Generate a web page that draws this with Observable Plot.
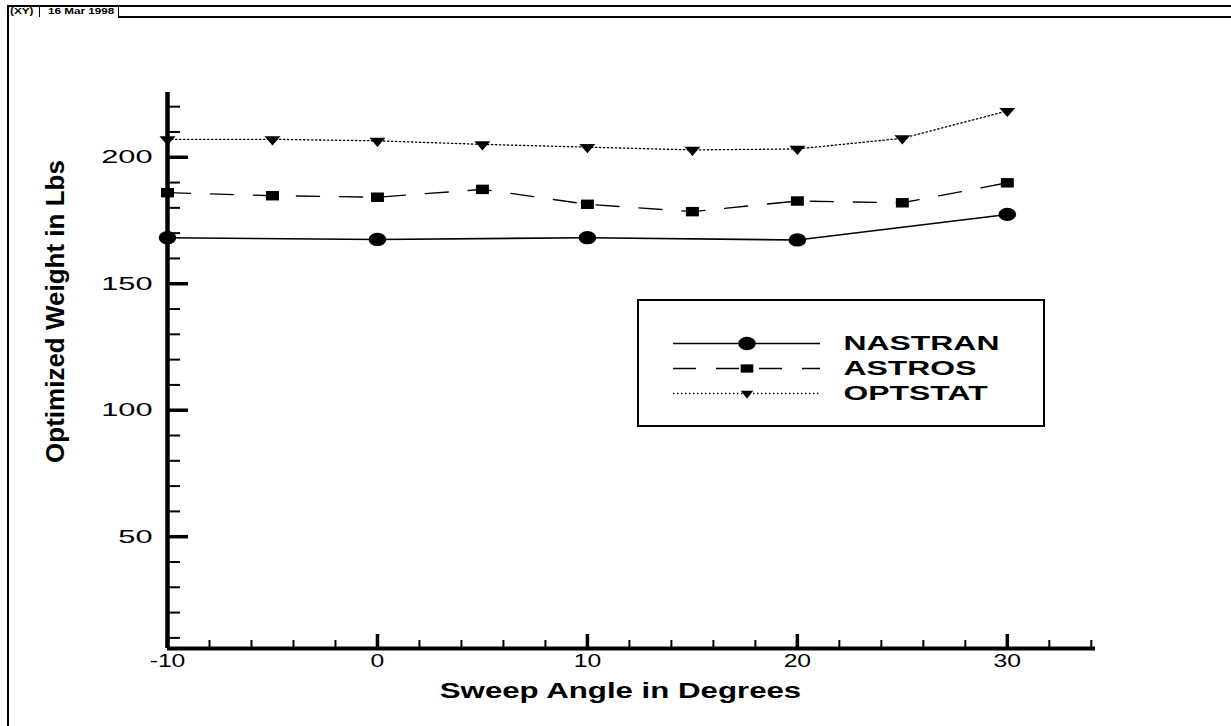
<!DOCTYPE html>
<html>
<head>
<meta charset="utf-8">
<script src="https://cdn.jsdelivr.net/npm/d3@7"></script>
<script src="https://cdn.jsdelivr.net/npm/@observablehq/plot@0.6"></script>
<style>
  html, body { margin: 0; padding: 0; background: #fff; }
  #wrap { position: relative; width: 1231px; height: 726px; overflow: hidden; background: #fff;
          font-family: "Liberation Sans", Arial, Helvetica, sans-serif; color: #000; }
  #wrap > svg.main { position: absolute; left: 0; top: 0; }
  #legendBox { position: absolute; left: 637px; top: 299px; width: 404px; height: 124px;
               border: 2px solid #000; background: #fff; }
  #legendBox svg { display: block; }
  .hline { position: absolute; height: 0; border-top: 2px solid #000; }
  .vline { position: absolute; width: 0; border-left: 2px solid #000; }
  .htext { position: absolute; top: 6px; font-size: 9px; font-weight: bold; line-height: 11px;
           transform-origin: 0 0; transform: scaleX(1.3); white-space: nowrap; }
</style>
</head>
<body>
<div id="wrap"></div>
<script>
// ---------- data ----------
const sweepAngles   = [-10, -5, 0, 5, 10, 15, 20, 25, 30];
const nastranAngles = [-10, 0, 10, 20, 30];
const nastranWeight = [168.2, 167.5, 168.2, 167.3, 177.4];
const astrosWeight  = [186.0, 184.8, 184.2, 187.3, 181.4, 178.5, 182.7, 182.0, 189.9];
const optstatWeight = [207.1, 207.1, 206.5, 205.1, 204.0, 202.9, 203.3, 207.5, 218.3];
const seriesNames   = ["NASTRAN", "ASTROS", "OPTSTAT"];

const xDomain = [-10, 34.2];
const yDomain = [5.8, 225.6];
const xMajor = [-10, 0, 10, 20, 30];
const xMinor = [-8, -6, -4, -2, 2, 4, 6, 8, 12, 14, 16, 18, 22, 24, 26, 28, 32, 34];
const yMajor = [50, 100, 150, 200];
const yMinor = [10, 20, 30, 40, 60, 70, 80, 90, 110, 120, 130, 140, 160, 170, 180, 190, 210, 220];

const xTitle = "Sweep Angle in Degrees";
const yTitle = "Optimized Weight in Lbs";
const headerTag = "(XY)";
const headerDate = "16 Mar 1998";

// ---------- tables ----------
const nastran = nastranAngles.map((a, i) => ({angle: a, weight: nastranWeight[i]}));
const astros  = sweepAngles.map((a, i) => ({angle: a, weight: astrosWeight[i]}));
const optstat = sweepAngles.map((a, i) => ({angle: a, weight: optstatWeight[i]}));

// ---------- layout ----------
const FONT = '"Liberation Sans", Arial, Helvetica, sans-serif';
const W = 1231, H = 726;
const M = {left: 167, right: 136, top: 92, bottom: 78};
const fw = W - M.left - M.right, fh = H - M.top - M.bottom;

const DASH = "23,20";
const DOT = "1.4,2.6";

const chart = Plot.plot({
  width: W, height: H,
  marginLeft: M.left, marginRight: M.right, marginTop: M.top, marginBottom: M.bottom,
  x: {domain: xDomain, axis: null, label: null},
  y: {domain: yDomain, axis: null, label: null},
  style: {background: "transparent", fontFamily: FONT, color: "#000", overflow: "visible"},
  marks: [
    Plot.line(nastran, {x: "angle", y: "weight", strokeWidth: 1.6}),
    Plot.line(astros,  {x: "angle", y: "weight", strokeWidth: 1.4, strokeDasharray: DASH}),
    Plot.line(optstat, {x: "angle", y: "weight", strokeWidth: 1.3, strokeDasharray: DOT}),
    Plot.ruleX([xDomain[0]], {strokeWidth: 4.5}),
    Plot.ruleY([yDomain[0]], {strokeWidth: 4}),
    Plot.tickY(yMinor, {y: d => d, insetRight: fw - 13, strokeWidth: 2}),
    Plot.tickY(yMajor, {y: d => d, insetRight: fw - 21, strokeWidth: 3.5}),
    Plot.tickX(xMinor, {x: d => d, insetTop: fh - 8, strokeWidth: 2}),
    Plot.tickX(xMajor, {x: d => d, insetTop: fh - 14, strokeWidth: 3.5}),
    Plot.dot(nastran, {x: "angle", y: "weight", symbol: "circle", r: 7.8, fill: "#000"}),
    Plot.dot(astros,  {x: "angle", y: "weight", symbol: "square", r: 6.2, fill: "#000"}),
    Plot.dot(optstat, {x: "angle", y: "weight", symbol: "triangle", rotate: 180, r: 5.5, fill: "#000"}),
    Plot.axisY({ticks: yMajor, tickSize: 0, tickPadding: 15, fontSize: 19, label: null, tickFormat: d => String(d)}),
    Plot.axisX({ticks: xMajor, tickSize: 0, tickPadding: 5, fontSize: 19, label: null, tickFormat: d => String(d)}),
    Plot.text([xTitle], {frameAnchor: "bottom", dx: -11, dy: 34, lineAnchor: "top", textAnchor: "middle",
                         fontSize: 22, fontWeight: "bold"}),
    Plot.text([yTitle], {frameAnchor: "left", dx: -112, dy: -59, rotate: -90, lineAnchor: "middle", textAnchor: "middle",
                         fontSize: 26, fontWeight: "bold"})
  ]
});
chart.classList.add("main");

// ---------- legend ----------
const legend = Plot.plot({
  width: 404, height: 124,
  marginLeft: 34, marginRight: 223, marginTop: 42, marginBottom: 32,
  x: {domain: [0, 1], axis: null},
  y: {type: "point", domain: seriesNames, padding: 0, axis: null},
  style: {background: "transparent", fontFamily: FONT, color: "#000", overflow: "visible"},
  marks: [
    Plot.ruleY([seriesNames[0]], {strokeWidth: 1.6}),
    Plot.ruleY([seriesNames[1]], {strokeWidth: 1.4, strokeDasharray: DASH}),
    Plot.ruleY([seriesNames[2]], {strokeWidth: 1.3, strokeDasharray: DOT}),
    Plot.dot([seriesNames[0]], {y: d => d, frameAnchor: "middle", symbol: "circle", r: 7.8, fill: "#000"}),
    Plot.dot([seriesNames[1]], {y: d => d, frameAnchor: "middle", symbol: "square", r: 5.5, fill: "#000"}),
    Plot.dot([seriesNames[2]], {y: d => d, frameAnchor: "middle", symbol: "triangle", rotate: 180, r: 4.6, fill: "#000"}),
    Plot.text(seriesNames, {y: d => d, frameAnchor: "right", textAnchor: "start", lineAnchor: "middle", dx: 23,
                            fontSize: 21, fontWeight: "bold"})
  ]
});

// ---------- horizontal stretching helpers (the reference is drawn wide) ----------
function stretchEl(el, sx, sy) {
  if (el.tagName === "circle") {
    const cx = +el.getAttribute("cx") || 0, cy = +el.getAttribute("cy") || 0;
    el.setAttribute("transform", `translate(${cx},${cy}) scale(${sx},${sy}) translate(${-cx},${-cy})`);
    return;
  }
  const tr = el.getAttribute("transform");
  if (tr) {
    el.setAttribute("transform", tr + ` scale(${sx},${sy})`);
  } else {
    const x = +el.getAttribute("x") || 0, y = +el.getAttribute("y") || 0;
    el.removeAttribute("x"); el.removeAttribute("y");
    el.setAttribute("transform", `translate(${x},${y}) scale(${sx},${sy})`);
  }
}
function stretchGroup(g, sx, sy = 1) {
  if (!g) return;
  g.querySelectorAll("circle, path, text").forEach(el => stretchEl(el, sx, sy));
}
function groups(root, label) {
  return Array.from(root.querySelectorAll(`g[aria-label="${label}"]`));
}
groups(chart, "y-axis tick label").forEach(g => stretchGroup(g, 1.62));
groups(chart, "x-axis tick label").forEach(g => stretchGroup(g, 1.3));
const chartTexts = groups(chart, "text");
stretchGroup(chartTexts[0], 1.42);               // x title
const chartDots = groups(chart, "dot");
stretchGroup(chartDots[0], 1.13, 0.85);
stretchGroup(chartDots[1], 1.18, 0.86);
stretchGroup(chartDots[2], 1.08, 0.72);
groups(legend, "text").forEach(g => stretchGroup(g, 1.52));
const legendDots = groups(legend, "dot");
stretchGroup(legendDots[0], 1.13, 0.85);
stretchGroup(legendDots[1], 1.3, 0.85);
stretchGroup(legendDots[2], 1.0, 0.75);

// ---------- assemble ----------
const wrap = document.getElementById("wrap");
wrap.appendChild(chart);
const box = document.createElement("div");
box.id = "legendBox";
box.appendChild(legend);
wrap.appendChild(box);

// header frame (plot-file banner)
function addDiv(cls, style, text) {
  const d = document.createElement("div");
  d.className = cls;
  Object.assign(d.style, style);
  if (text != null) d.textContent = text;
  wrap.appendChild(d);
  return d;
}
addDiv("hline", {left: "7px", top: "5px", width: (W - 7) + "px"});
addDiv("hline", {left: "118px", top: "16px", width: (W - 118) + "px"});
addDiv("vline", {left: "7px", top: "5px", height: (H - 5) + "px"});
addDiv("vline", {left: "39px", top: "6px", height: "11px", borderLeftWidth: "1px"});
addDiv("vline", {left: "118px", top: "6px", height: "11px", borderLeftWidth: "1px"});
addDiv("htext", {left: "10px"}, headerTag);
addDiv("htext", {left: "48px"}, headerDate);
</script>
</body>
</html>
